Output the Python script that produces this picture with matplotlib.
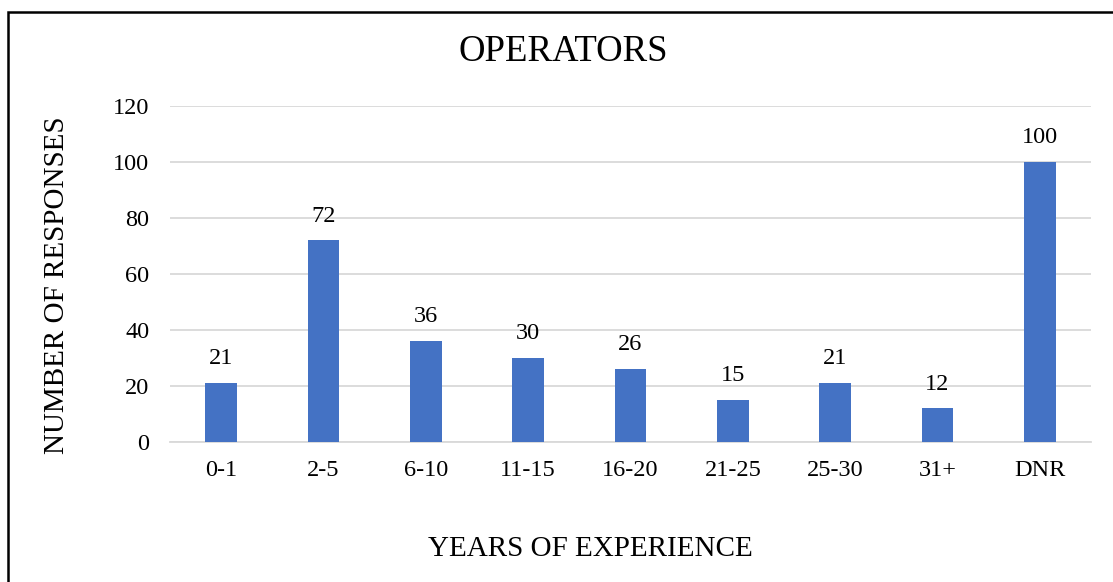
import matplotlib
matplotlib.use("Agg")
import matplotlib.pyplot as plt
from matplotlib.patches import Rectangle

categories = ["0-1", "2-5", "6-10", "11-15", "16-20", "21-25", "25-30", "31+", "DNR"]
values = [21, 72, 36, 30, 26, 15, 21, 12, 100]
yticks = [0, 20, 40, 60, 80, 100, 120]

plt.rcParams['font.family'] = ['Liberation Serif', 'DejaVu Serif']

W, H = 1113, 582
fig = plt.figure(figsize=(W / 100, H / 100), dpi=100)
ax = fig.add_axes([170 / W, 1 - 442 / H, (1091 - 170) / W, (442 - 106) / H])

x = list(range(len(categories)))
bars = ax.bar(x, values, width=0.31, color="#4472c4", zorder=3)
for xi, v in zip(x, values):
    ax.annotate(str(v), (xi, v), xytext=(0, 10), textcoords="offset points",
                ha="center", va="bottom", fontsize=17.5, color="#000000")

ax.set_xlim(-0.5, len(categories) - 0.5)
ax.set_ylim(0, 120)
ax.set_yticks(yticks)
ax.set_yticklabels([str(t) for t in yticks], fontsize=17.5)
ax.set_xticks(x)
ax.set_xticklabels(categories, fontsize=17.5)
ax.tick_params(axis="both", length=0)
ax.tick_params(axis="y", pad=15)
ax.tick_params(axis="x", pad=13)
ax.grid(axis="y", color="#d9d9d9", linewidth=1.3, zorder=0)
for s in ["top", "right", "left"]:
    ax.spines[s].set_visible(False)
ax.spines["bottom"].set_color("#d9d9d9")
ax.spines["bottom"].set_linewidth(1.3)

fig.text(563 / W, 1 - 52 / H, "OPERATORS", ha="center", va="center", fontsize=26.5)
fig.text(57 / W, 1 - 285 / H, "NUMBER OF RESPONSES", ha="center", va="center",
         rotation=90, fontsize=21)
fig.text(590 / W, 1 - 549 / H, "YEARS OF EXPERIENCE", ha="center", va="center", fontsize=21)

fig.patches.append(Rectangle((7.5 / W, -0.1), 1.2, 1 - 11.5 / H + 0.1,
                             transform=fig.transFigure, fill=False,
                             edgecolor="black", linewidth=1.8))

fig.savefig("out.png", dpi=100)
